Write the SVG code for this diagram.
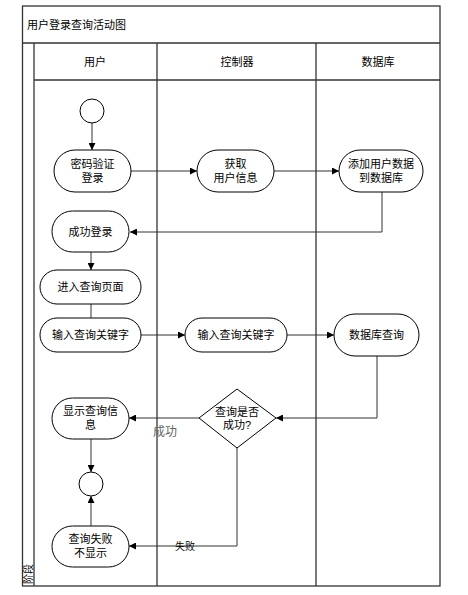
<svg xmlns="http://www.w3.org/2000/svg" width="468" height="595" viewBox="0 0 468 595">
<defs>
<style>
text{font-family:"Liberation Sans","Noto Sans CJK SC",sans-serif;font-size:11px;fill:#000}
.c{text-anchor:middle}
.lane{fill:none;stroke:#333;stroke-width:1.3}
.node{fill:#fff;stroke:#000;stroke-width:1}
.con{fill:none;stroke:#333;stroke-width:1}
</style>
<marker id="arr" viewBox="0 0 10 10" refX="10" refY="5" markerWidth="7" markerHeight="7" orient="auto" markerUnits="userSpaceOnUse">
<path d="M0,0 L10,5 L0,10 z" fill="#000"/>
</marker>
</defs>
<rect width="468" height="595" fill="#fff"/>
<g id="pool">
<rect class="lane" x="22.5" y="6" width="417.5" height="580"/>
<line class="lane" x1="22.5" y1="43" x2="440" y2="43"/>
<line class="lane" x1="34" y1="43" x2="34" y2="586"/>
<line class="lane" x1="34" y1="80" x2="440" y2="80"/>
<line class="lane" x1="157" y1="43" x2="157" y2="586"/>
<line class="lane" x1="316" y1="43" x2="316" y2="586"/>
<text x="27" y="29">用户登录查询活动图</text>
<text class="c" x="95" y="66">用户</text>
<text class="c" x="237" y="66">控制器</text>
<text class="c" x="378" y="66">数据库</text>
<text x="32" y="584" style="font-size:10px" transform="rotate(-90 32 584)">阶段</text>
</g>
<g id="connectors">
<line class="con" x1="92" y1="123" x2="92" y2="150" marker-end="url(#arr)"/>
<line class="con" x1="131" y1="171" x2="197" y2="171" marker-end="url(#arr)"/>
<line class="con" x1="274" y1="171" x2="339" y2="171" marker-end="url(#arr)"/>
<polyline class="con" points="382,192 382,232 130,232" marker-end="url(#arr)"/>
<line class="con" x1="91" y1="252" x2="91" y2="270" marker-end="url(#arr)"/>
<line class="con" x1="91" y1="304" x2="91" y2="318"/>
<line class="con" x1="141" y1="335" x2="185" y2="335" marker-end="url(#arr)"/>
<line class="con" x1="287" y1="335" x2="334" y2="335" marker-end="url(#arr)"/>
<polyline class="con" points="377,356 377,418 276,418" marker-end="url(#arr)"/>
<line class="con" x1="199" y1="418" x2="129" y2="418" marker-end="url(#arr)"/>
<text class="c" x="165" y="436" style="fill:#666;font-size:12px">成功</text>
<line class="con" x1="91" y1="439" x2="91" y2="472" marker-end="url(#arr)"/>
<line class="con" x1="91" y1="526" x2="91" y2="496" marker-end="url(#arr)"/>
<polyline class="con" points="237,448 237,546 129,546" marker-end="url(#arr)"/>
<text class="c" x="185" y="550" style="font-size:10px">失败</text>
</g>
<g id="start"><circle class="node" cx="92" cy="111" r="12"/></g>
<g id="n1"><rect class="node" x="54" y="150" width="77" height="42" rx="21"/><text class="c" x="92.5" y="168">密码验证</text><text class="c" x="92.5" y="182">登录</text></g>
<g id="n2"><rect class="node" x="197" y="150" width="77" height="42" rx="21"/><text class="c" x="235.5" y="168">获取</text><text class="c" x="235.5" y="182">用户信息</text></g>
<g id="n3"><rect class="node" x="339" y="150" width="84" height="42" rx="21"/><text class="c" x="381" y="168">添加用户数据</text><text class="c" x="381" y="182">到数据库</text></g>
<g id="n4"><rect class="node" x="52" y="211" width="77" height="41" rx="20.5"/><text class="c" x="90.5" y="236">成功登录</text></g>
<g id="n5"><rect class="node" x="40" y="270" width="101" height="34" rx="17"/><text class="c" x="90.5" y="291">进入查询页面</text></g>
<g id="n6"><rect class="node" x="40" y="318" width="101" height="34" rx="17"/><text class="c" x="90.5" y="339">输入查询关键字</text></g>
<g id="n7"><rect class="node" x="185" y="318" width="102" height="34" rx="17"/><text class="c" x="236" y="339">输入查询关键字</text></g>
<g id="n8"><rect class="node" x="334" y="314" width="85" height="42" rx="21"/><text class="c" x="376.5" y="339">数据库查询</text></g>
<g id="n9"><polygon class="node" points="237,389 276,418 237,448 199,418"/><text class="c" x="237" y="416">查询是否</text><text class="c" x="237" y="429">成功?</text></g>
<g id="n10"><rect class="node" x="52" y="398" width="77" height="41" rx="20.5"/><text class="c" x="90.5" y="415">显示查询信</text><text class="c" x="90.5" y="429">息</text></g>
<g id="end"><circle class="node" cx="91" cy="484" r="12"/></g>
<g id="n11"><rect class="node" x="52" y="526" width="77" height="41" rx="20.5"/><text class="c" x="90.5" y="543">查询失败</text><text class="c" x="90.5" y="557">不显示</text></g>
</svg>
